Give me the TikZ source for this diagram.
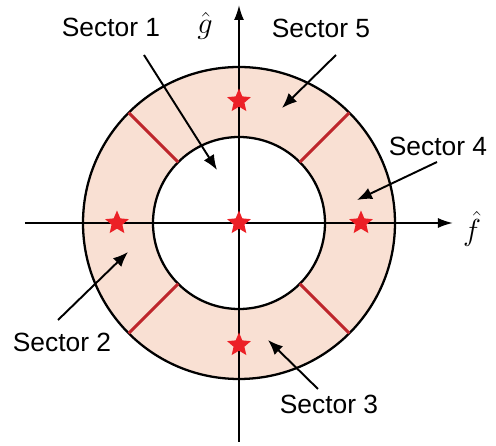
\documentclass[tikz,border=0pt]{standalone}
\usepackage{fontspec}
\setmainfont{Liberation Sans}
\usetikzlibrary{arrows.meta,shapes.geometric}
\definecolor{ringfill}{RGB}{249,224,211}
\definecolor{cutred}{RGB}{190,38,44}
\definecolor{starred}{RGB}{236,32,38}
\begin{document}
\begin{tikzpicture}[
  lbl/.style={font=\fontsize{15}{18}\selectfont, inner sep=1pt},
  pointer/.style={line width=1.1pt, -{Latex[length=3mm,width=2.4mm]}},
  axis/.style={line width=1.1pt, -{Latex[length=3mm,width=2mm]}},
  mark star/.style={star, star points=5, star point ratio=2.2, minimum size=0.5cm, inner sep=0pt, fill=starred}
]
\useasboundingbox (-4.78,-4.46) rectangle (5.14,4.46);

% ring
\fill[ringfill, even odd rule] (0,0) circle (3.12) (0,0) circle (1.72);
\draw[line width=1.3pt] (0,0) circle (3.12);
\draw[line width=1.3pt] (0,0) circle (1.72);
\foreach \a in {45,135,225,315}
  \draw[cutred, line width=1.8pt] (\a:1.72) -- (\a:3.12);

% axes
\coordinate (fstart) at (-4.28,0);
\coordinate (fend) at (4.28,0);
\coordinate (gstart) at (0,-4.38);
\coordinate (gend) at (0,4.36);
\draw[axis] (fstart) -- (fend);
\draw[axis] (gstart) -- (gend);
\node (fhat) at (4.66,-0.12) {\LARGE $\hat{f}$};
\node (ghat) at (-0.68,3.94) {\LARGE $\hat{g}$};

% stars
\node[mark star] (c0) at (0,0) {};
\node[mark star] (c1) at (0,2.44) {};
\node[mark star] (c2) at (-2.44,0) {};
\node[mark star] (c3) at (0,-2.44) {};
\node[mark star] (c4) at (2.44,0) {};

% sector labels
\node[lbl] (s1) at (-2.56,3.92) {Sector 1};
\node[lbl] (s5) at (1.64,3.90) {Sector 5};
\node[lbl] (s4) at (3.98,1.54) {Sector 4};
\node[lbl] (s2) at (-3.54,-2.38) {Sector 2};
\node[lbl] (s3) at (1.80,-3.62) {Sector 3};

\coordinate (s1tail) at (-1.90,3.36);
\coordinate (s1head) at (-0.44,1.06);
\coordinate (s5tail) at (1.94,3.36);
\coordinate (s5head) at (0.86,2.30);
\coordinate (s4tail) at (3.96,1.22);
\coordinate (s4head) at (2.36,0.46);
\coordinate (s2tail) at (-3.62,-1.94);
\coordinate (s2head) at (-2.22,-0.58);
\coordinate (s3tail) at (1.58,-3.32);
\coordinate (s3head) at (0.58,-2.34);
\draw[pointer] (s1tail) -- (s1head);
\draw[pointer] (s5tail) -- (s5head);
\draw[pointer] (s4tail) -- (s4head);
\draw[pointer] (s2tail) -- (s2head);
\draw[pointer] (s3tail) -- (s3head);
\end{tikzpicture}
\end{document}
